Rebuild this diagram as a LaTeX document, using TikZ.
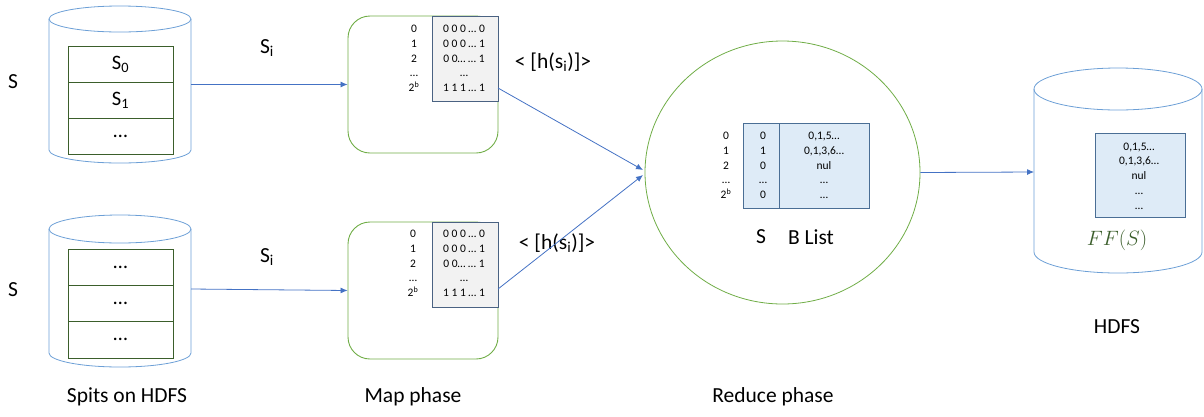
\documentclass[tikz,border=0pt]{standalone}
\usepackage{fontspec}
\setmainfont{Carlito}
\usetikzlibrary{shapes.geometric,arrows.meta}
\definecolor{cylblue}{HTML}{6C9FD6}
\definecolor{dkgreen}{HTML}{3B5E2B}
\definecolor{ltgreen}{HTML}{70AD47}
\definecolor{grayfill}{HTML}{F2F2F2}
\definecolor{grayedge}{HTML}{4A6282}
\definecolor{bluefill}{HTML}{DEEBF7}
\definecolor{blueedge}{HTML}{4A6E95}
\definecolor{arrowblue}{HTML}{4472C4}
\newcommand\mycyl[5]{%
  \draw[cylline] (#1,#3) ellipse[x radius=#2, y radius=#5];
  \draw[cylline] (#1-#2,#3) -- (#1-#2,#4)
    .. controls (#1-#2,#4+0.5523*#5) and (#1-0.5523*#2,#4+#5) .. (#1,#4+#5)
    .. controls (#1+0.5523*#2,#4+#5) and (#1+#2,#4+0.5523*#5) .. (#1+#2,#4)
    -- (#1+#2,#3);}
\begin{document}
\begin{tikzpicture}[x=1pt,y=-1pt,
  big/.style={font=\fontsize{21.5}{25}\selectfont, inner sep=0},
  tiny/.style={font=\fontsize{11.5}{14.75}\selectfont, align=center, inner sep=0},
  cylline/.style={draw=cylblue, line width=0.8pt},
  slot/.style={draw=dkgreen, line width=0.9pt, minimum width=105, minimum height=36, inner sep=0, font=\fontsize{20.5}{24}\selectfont},
  ghost/.style={inner sep=0, outer sep=0},
  mapbox/.style={draw=ltgreen, line width=0.9pt, rounded corners=22, minimum width=150, minimum height=137, inner sep=0},
  graytab/.style={draw=grayedge, fill=grayfill, line width=0.8pt, minimum width=66, minimum height=85, inner sep=0},
  bluetab/.style={draw=blueedge, fill=bluefill, line width=0.8pt, inner sep=0},
  conn/.style={draw=arrowblue, line width=0.8pt, -{Latex[length=7pt,width=6pt]}}
]
\useasboundingbox (0,0) rectangle (1204,416);

% ---- left cylinders
\mycyl{120}{71}{19}{150}{13}
\node[ghost, minimum width=142, minimum height=157] (cyl1) at (120,84.5) {};
\node[slot] (a0) at (120.5,64) {S\textsubscript{0}};
\node[slot] (a1) at (120.5,100) {S\textsubscript{1}};
\node[slot] (a2) at (120.5,136) {…};

\mycyl{120}{71}{229}{353}{14}
\node[ghost, minimum width=142, minimum height=152] (cyl2) at (120,289) {};
\node[slot, minimum height=36.3] (b0) at (120.5,267.2) {…};
\node[slot, minimum height=36.3] (b1) at (120.5,303.5) {…};
\node[slot, minimum height=36.3] (b2) at (120.5,339.8) {…};

\node[big] (s1) at (13,82) {S};
\node[big] (s2) at (13,290) {S};
\node[big] (si1) at (267,48) {S\textsubscript{i}};
\node[big] (si2) at (267,257) {S\textsubscript{i}};
\node[big] (lab1) at (127,397) {Spits on HDFS};

% ---- map boxes
\node[mapbox] (map1) at (423,84.5) {};
\node[graytab] (g1) at (465,58.5) {};
\node[tiny] (g1t) at (464,58.5) {0 0 0 … 0\\0 0 0 … 1\\0 0… … 1\\…\\1 1 1 … 1};
\node[tiny] (g1n) at (414,58.5) {0\\1\\2\\…\\2\textsuperscript{b}};

\node[mapbox] (map2) at (423,290.5) {};
\node[graytab] (g2) at (465,264.5) {};
\node[tiny] (g2t) at (464,263.5) {0 0 0 … 0\\0 0 0 … 1\\0 0… … 1\\…\\1 1 1 … 1};
\node[tiny] (g2n) at (413,263.5) {0\\1\\2\\…\\2\textsuperscript{b}};

\node[big] (h1) at (553,62) {< [h(s\textsubscript{i})]>};
\node[big] (h2) at (557,243) {< [h(s\textsubscript{i})]>};
\node[big] (lab2) at (413,397) {Map phase};

% ---- reduce
\node[ellipse, draw=ltgreen, line width=0.8pt, minimum width=275, minimum height=263, inner sep=0] (red) at (782.5,172.5) {};
\node[bluetab, minimum width=36, minimum height=85] (rt1) at (761,165.5) {};
\node[bluetab, minimum width=90, minimum height=85] (rt2) at (824,165.5) {};
\node[tiny] (rn) at (726,165.5) {0\\1\\2\\…\\2\textsuperscript{b}};
\node[tiny] (r1t) at (763,165.5) {0\\1\\0\\…\\0};
\node[tiny] (r2t) at (824,165.5) {0,1,5…\\0,1,3,6…\\nul\\…\\…};
\node[big] (rs) at (761,237) {S};
\node[big] (rb) at (811,237) {B List};
\node[big] (lab3) at (773,397) {Reduce phase};

% ---- HDFS cylinder
\mycyl{1118}{84}{89}{252}{21}
\node[ghost, minimum width=168, minimum height=180] (cyl3) at (1118,172) {};
\node[bluetab, minimum width=90, minimum height=84] (ht) at (1140,175) {};
\node[tiny] (htt) at (1139,176) {0,1,5…\\0,1,3,6…\\nul\\…\\…};
\node[font=\fontsize{20}{24}\selectfont, inner sep=0] (ff) at (1117,240) {\color{dkgreen}$FF(S)$};
\node[big] (lab4) at (1117,327) {HDFS};

% ---- connectors
\coordinate (o1) at (498,88);
\coordinate (o2) at (498,289);
\coordinate (i1) at (643,170);
\coordinate (i2) at (643,175);
\draw[conn] (cyl1.east) -- (map1.west);
\draw[conn] (cyl2.east) -- (map2.west);
\draw[conn] (o1) -- (i1);
\draw[conn] (o2) -- (i2);
\draw[conn] (red.east) -- (cyl3.west);
\end{tikzpicture}
\end{document}
